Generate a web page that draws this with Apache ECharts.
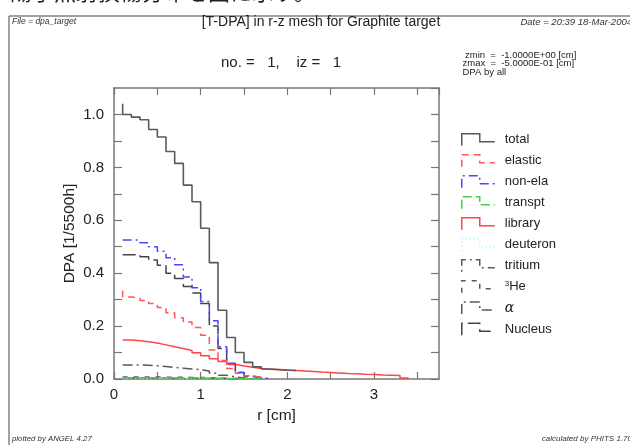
<!DOCTYPE html>
<html><head><meta charset="utf-8">
<script src="https://cdn.jsdelivr.net/npm/echarts@6/dist/echarts.min.js"></script>
<style>html,body{margin:0;padding:0;background:#fff}#c{width:630px;height:445px}</style>
</head><body><div id="c"></div>
<script>
// bin edges (cm); value[0] is the bin ending at the first edge, value[i] spans edges[i-1]..edges[i]
const rEdges = [0.1,0.2,0.3,0.4,0.5,0.6,0.7,0.8,0.9,1.0,1.1,1.2,1.3,1.4,1.5,1.6,1.7,1.8,1.9,2.0,2.1,2.2,2.3,2.4,2.5,2.6,2.7,2.8,2.9,3.0,3.1,3.2,3.3,3.4,3.5];
const seriesNames = ['total','elastic','non-ela','transpt','library','deuteron','tritium','3He','α','Nucleus'];
const total   = [1.04,1.00,0.99,0.98,0.943,0.915,0.86,0.815,0.733,0.67,0.57,0.44,0.26,0.157,0.10,0.063,0.046,0.038,0.036,0.034,0.032];
const elastic = [0.335,0.31,0.305,0.297,0.285,0.27,0.25,0.232,0.215,0.195,0.165,0.11,0.07,0.04,0.022,0.012,0.006];
const nonEla  = [0.525,0.525,0.525,0.515,0.50,0.483,0.458,0.432,0.386,0.345,0.293,0.22,0.122,0.06,0.025,0.012,0.005,0.002];
const transpt = [0.005,0.005,0.005,0.005,0.005,0.005,0.004,0.004,0.004,0.004,0.003,0.003,0.002,0.002,0.001,0.001,0.001];
const library = [0.147,0.147,0.145,0.141,0.136,0.129,0.122,0.115,0.108,0.099,0.088,0.077,0.066,0.056,0.049,0.044,0.040,0.037,0.035,0.033,0.032,0.030,0.028,0.026,0.025,0.023,0.021,0.020,0.018,0.017,0.015,0.014,0.013,0.004];
const deuteron= [0.003,0.003,0.003,0.003,0.003,0.003,0.003,0.002,0.002,0.002,0.002,0.001,0.001,0.001];
const tritium = [0.004,0.004,0.004,0.004,0.004,0.004,0.003,0.003,0.003,0.003,0.002,0.002,0.001,0.001];
const he3     = [0.008,0.008,0.008,0.008,0.008,0.007,0.007,0.007,0.006,0.006,0.005,0.004,0.003,0.002,0.001];
const alpha   = [0.053,0.053,0.053,0.052,0.05,0.047,0.044,0.041,0.038,0.035,0.03,0.022,0.014,0.008,0.004,0.002];
const nucleus = [0.47,0.47,0.47,0.462,0.45,0.43,0.40,0.38,0.35,0.325,0.285,0.20,0.115,0.055,0.025,0.01,0.005];
const seriesValues = [total,elastic,nonEla,transpt,library,deuteron,tritium,he3,alpha,nucleus];
const xTickLabels = [0,1,2,3];
const yTickLabels = [0.0,0.2,0.4,0.6,0.8,1.0];

// styles
const styles = [
  {color:'#5a5a5a', dash:'solid', w:1.6},
  {color:'#ff5555', dash:[7,5], w:1.5},
  {color:'#4646ff', dash:[9,4,2,4], w:1.5},
  {color:'#44d044', dash:[9,4], w:1.5},
  {color:'#ff4545', dash:'solid', w:1.5},
  {color:'#a8eef0', dash:[1,3], w:1.5},
  {color:'#5a5a5a', dash:[2,4,10,4], w:1.5},
  {color:'#5a5a5a', dash:[5,6], w:1.5},
  {color:'#5a5a5a', dash:[10,4,2,4], w:1.5},
  {color:'#444444', dash:[13,5], w:1.5}
];

function stepPoints(vals){
  const pts = [[rEdges[0], vals[0]]];
  for (let i = 1; i < vals.length; i++) {
    pts.push([rEdges[i-1], vals[i]], [rEdges[i], vals[i]]);
  }
  return pts;
}

const FONT = '"Liberation Sans", Arial, Helvetica, sans-serif';
const axisCol = '#777';

const series = seriesNames.map((n, i) => ({
  name: n, type: 'line', data: stepPoints(seriesValues[i]),
  showSymbol: false, symbol: 'none', animation: false, silent: true,
  color: styles[i].color,
  lineStyle: {color: styles[i].color, width: styles[i].w, type: styles[i].dash},
  z: 10 - i
}));

const tickStyle = {color: axisCol, width: 1.2};
const lineStyleAx = {color: axisCol, width: 1.5};

const chart = echarts.init(document.getElementById('c'), null, {renderer: 'canvas'});
chart.setOption({
  backgroundColor: '#fff',
  animation: false,
  textStyle: {fontFamily: FONT},
  grid: {left: 114, right: 191, top: 88, bottom: 66},
  xAxis: [{
    type: 'value', min: 0, max: 3.75, interval: 0.5, position: 'bottom',
    axisLine: {onZero: false, lineStyle: lineStyleAx},
    axisTick: {inside: true, length: 7, lineStyle: tickStyle},
    splitLine: {show: false},
    axisLabel: {color: '#222', fontSize: 15, fontFamily: FONT, margin: 8, showMaxLabel: false,
      formatter: v => xTickLabels.indexOf(v) >= 0 ? String(v) : ''},
    name: 'r [cm]', nameLocation: 'middle', nameGap: 29, nameMoveOverlap: false,
    nameTextStyle: {color: '#222', fontSize: 15.5, fontFamily: FONT}
  }, {
    type: 'value', min: 0, max: 3.75, interval: 0.5, position: 'top',
    axisLine: {onZero: false, lineStyle: lineStyleAx},
    axisTick: {inside: true, length: 7, lineStyle: tickStyle},
    axisLabel: {show: false}, splitLine: {show: false}
  }],
  yAxis: [{
    type: 'value', min: 0, max: 1.1, interval: 0.1, position: 'left',
    axisLine: {show: true, onZero: false, lineStyle: lineStyleAx},
    axisTick: {show: true, inside: true, length: 8, lineStyle: tickStyle},
    splitLine: {show: false},
    axisLabel: {color: '#222', fontSize: 15, fontFamily: FONT, margin: 10, showMaxLabel: false,
      formatter: v => { const k = Math.round(v * 10) / 10; return yTickLabels.indexOf(k) >= 0 ? k.toFixed(1) : ''; }},
    name: 'DPA [1/5500h]', nameLocation: 'middle', nameGap: 36, nameMoveOverlap: false,
    nameTextStyle: {color: '#222', fontSize: 15.5, fontFamily: FONT}
  }, {
    type: 'value', min: 0, max: 1.1, interval: 0.1, position: 'right',
    axisLine: {show: true, onZero: false, lineStyle: lineStyleAx},
    axisTick: {show: true, inside: true, length: 8, lineStyle: tickStyle},
    axisLabel: {show: false}, splitLine: {show: false}
  }],
  legend: {
    orient: 'vertical', left: 461, top: 133, padding: 0,
    itemWidth: 33, itemHeight: 12, itemGap: 7.5,
    icon: 'path://M0,12L0,0L18,0L18,8L33,8',
    selectedMode: false,
    itemStyle: {color: 'transparent', borderColor: 'inherit', borderWidth: 1.5},
    data: seriesNames.map((n, i) => ({name: n, itemStyle: {borderType: styles[i].dash, borderColor: styles[i].color}})),
    formatter: n => n === '3He' ? '{sup|3}{t|He}' : (n === 'α' ? '{it|α}' : n),
    textStyle: {color: '#222', fontSize: 13, fontFamily: FONT, padding: [0,0,0,5],
      rich: {
        sup: {fontSize: 8, fontFamily: FONT, color: '#222', verticalAlign: 'top'},
        t: {fontSize: 13, fontFamily: FONT, color: '#222'},
        it: {fontSize: 14, fontFamily: '"DejaVu Serif", serif', fontStyle: 'italic', color: '#222'}
      }}
  },
  graphic: [
    {type: 'text', x: 10, y: -19, silent: true,
      style: {text: '陽子照射損傷分布を図に示す。', font: '22px "Noto Sans CJK JP"', fill: '#222'}},
    {type: 'polyline', silent: true, shape: {points: [[9,445],[9,16],[630,16]]},
      style: {stroke: '#444', lineWidth: 1, fill: null}},
    {type: 'text', x: 12, y: 22, silent: true,
      style: {text: 'File = dpa_target', font: 'italic 8.5px ' + FONT, fill: '#333', textVerticalAlign: 'middle'}},
    {type: 'text', x: 321, y: 22, silent: true,
      style: {text: '[T-DPA] in r-z mesh for Graphite target', font: '14px ' + FONT, fill: '#222', textAlign: 'center', textVerticalAlign: 'middle'}},
    {type: 'text', x: 632, y: 22, silent: true,
      style: {text: 'Date = 20:39 18-Mar-2004', font: 'italic 9.5px ' + FONT, fill: '#333', textAlign: 'right', textVerticalAlign: 'middle'}},
    {type: 'text', x: 281, y: 63, silent: true,
      style: {text: 'no. =   1,    iz =   1', font: '15px ' + FONT, fill: '#222', textAlign: 'center', textVerticalAlign: 'middle'}},
    {type: 'text', x: 465, y: 55, silent: true,
      style: {text: 'zmin  =  -1.0000E+00 [cm]', font: '9.5px ' + FONT, fill: '#222', textVerticalAlign: 'middle'}},
    {type: 'text', x: 462.5, y: 63.5, silent: true,
      style: {text: 'zmax  =  -5.0000E-01 [cm]', font: '9.5px ' + FONT, fill: '#222', textVerticalAlign: 'middle'}},
    {type: 'text', x: 462.5, y: 72, silent: true,
      style: {text: 'DPA by all', font: '9.5px ' + FONT, fill: '#222', textVerticalAlign: 'middle'}},
    {type: 'text', x: 12, y: 439, silent: true,
      style: {text: 'plotted by ANGEL 4.27', font: 'italic 7.8px ' + FONT, fill: '#333', textVerticalAlign: 'middle'}},
    {type: 'text', x: 632, y: 439, silent: true,
      style: {text: 'calculated by PHITS 1.70', font: 'italic 8px ' + FONT, fill: '#333', textAlign: 'right', textVerticalAlign: 'middle'}}
  ],
  series: series
});
</script></body></html>
